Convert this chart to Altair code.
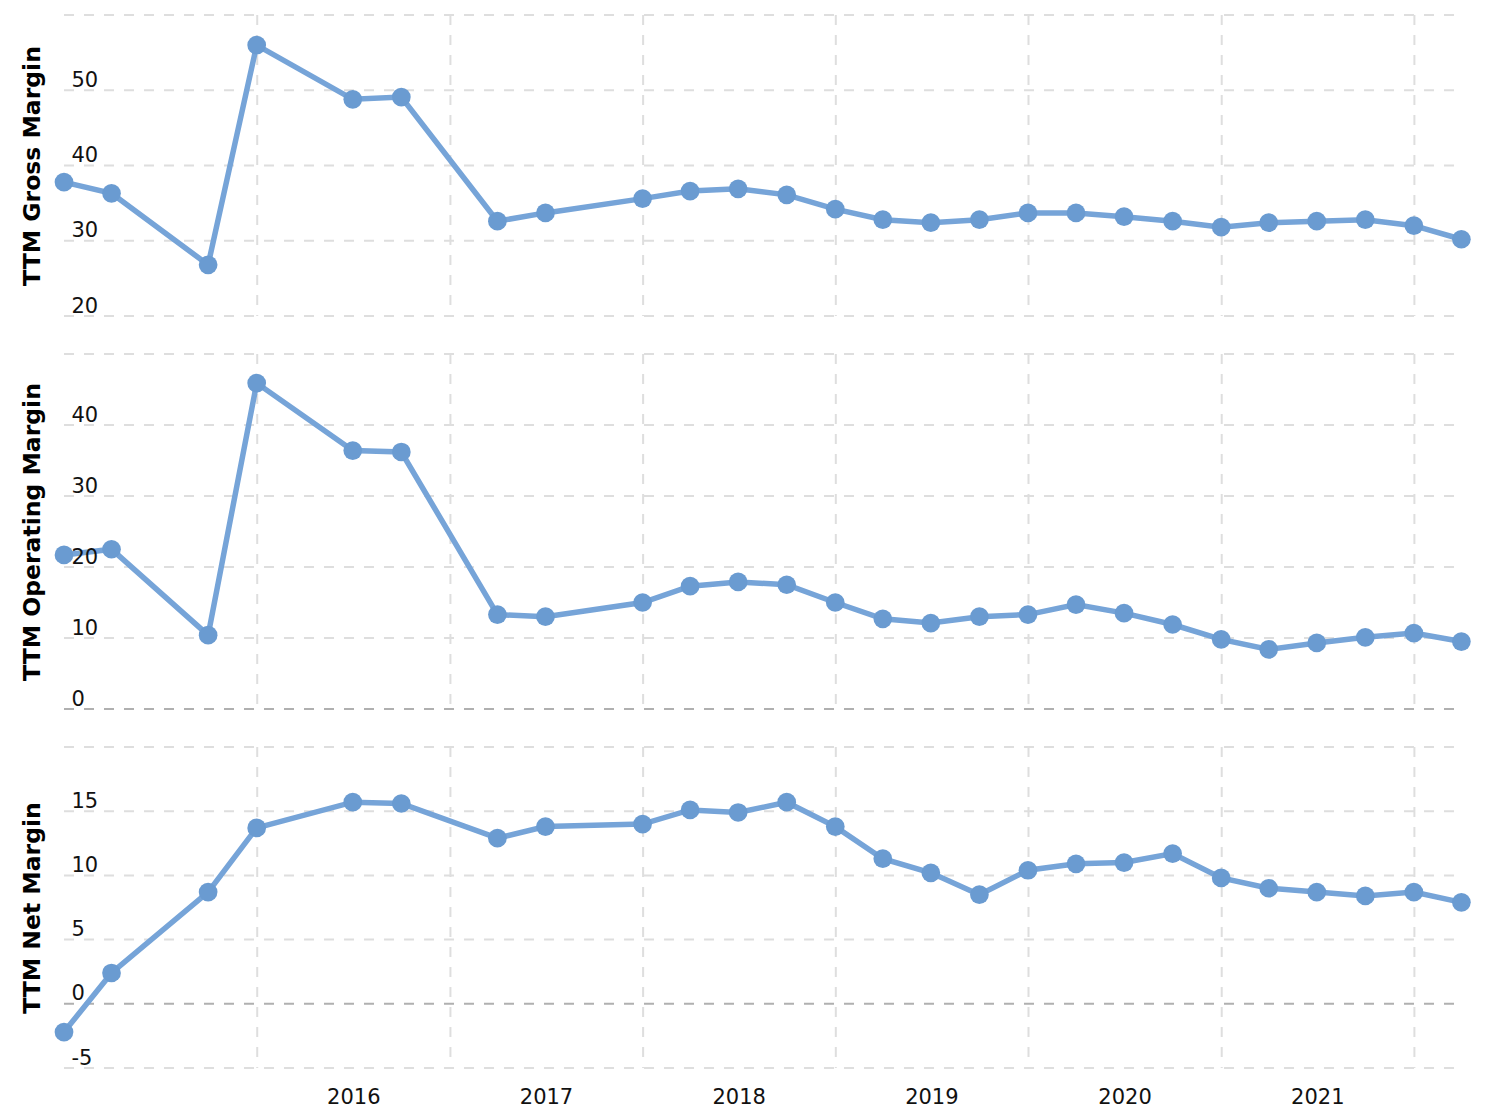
import altair as alt
import pandas as pd

# ---------------- data ----------------
dates = ["2014-12-31", "2015-03-31", "2015-09-30", "2015-12-31", "2016-06-30", "2016-09-30",
         "2017-03-31", "2017-06-30", "2017-12-31", "2018-03-31", "2018-06-30", "2018-09-30",
         "2018-12-31", "2019-03-31", "2019-06-30", "2019-09-30", "2019-12-31", "2020-03-31",
         "2020-06-30", "2020-09-30", "2020-12-31", "2021-03-31", "2021-06-30", "2021-09-30",
         "2021-12-31", "2022-03-31"]

gross_margin = [37.8, 36.3, 26.8, 56.0, 48.8, 49.1, 32.6, 33.7, 35.6, 36.6, 36.9, 36.1, 34.2,
                32.8, 32.4, 32.8, 33.7, 33.7, 33.2, 32.6, 31.8, 32.4, 32.6, 32.8, 32.0, 30.2]
operating_margin = [21.7, 22.5, 10.4, 45.9, 36.4, 36.2, 13.3, 13.0, 15.0, 17.3, 17.9, 17.5, 15.0,
                    12.7, 12.1, 13.0, 13.3, 14.7, 13.5, 11.9, 9.8, 8.4, 9.3, 10.1, 10.7, 9.5]
net_margin = [-2.2, 2.4, 8.7, 13.7, 15.7, 15.6, 12.9, 13.8, 14.0, 15.1, 14.9, 15.7, 13.8,
              11.3, 10.2, 8.5, 10.4, 10.9, 11.0, 11.7, 9.8, 9.0, 8.7, 8.4, 8.7, 7.9]

titles = ["TTM Gross Margin", "TTM Operating Margin", "TTM Net Margin"]
gross_ticks = [20, 30, 40, 50]
gross_grid = [20, 30, 40, 50, 60]
operating_ticks = [0, 10, 20, 30, 40]
operating_grid = [0, 10, 20, 30, 40, 50]
net_ticks = [-5, 0, 5, 10, 15]
net_grid = [-5, 0, 5, 10, 15, 20]

year_starts = ["2016-01-01", "2017-01-01", "2018-01-01", "2019-01-01",
               "2020-01-01", "2021-01-01", "2022-01-01"]
label_years = [2016, 2017, 2018, 2019, 2020, 2021]

FONT = "DejaVu Sans"
LINE_COLOR = "#76a4d8"
POINT_COLOR = "#6a9bd1"
GRID_COLOR = "#dedede"
ZERO_COLOR = "#b0b0b0"


def panel(values, title, ticks, grid_vals, height, show_x):
    df = pd.DataFrame({"date": dates, "value": values})
    vdf = pd.DataFrame({"date": year_starts})
    hdf = pd.DataFrame({"value": grid_vals})

    xscale = alt.Scale(
        type="utc",
        domain=[alt.DateTime(year=2014, month=12, date=31, utc=True),
                alt.DateTime(year=2022, month=3, date=17, utc=True)],
    )
    if show_x:
        xaxis = alt.Axis(
            values=[alt.DateTime(year=y, month=7, date=1, utc=True) for y in label_years],
            labelExpr="utcFormat(datum.value, '%Y')",
            grid=False, domain=False, ticks=False,
            labelFontSize=21, labelFont=FONT, labelColor="#111",
            labelPadding=18, labelFlush=False, title=None,
        )
    else:
        xaxis = None
    x = alt.X("date:T", scale=xscale, axis=xaxis)

    yscale = alt.Scale(domain=[grid_vals[0], grid_vals[-1]], nice=False, zero=False)
    yaxis = alt.Axis(
        values=ticks, grid=False, domain=False, ticks=False,
        labelExpr="toString(datum.value)",
        labelAlign="left", labelBaseline="alphabetic", labelPadding=-7, labelOffset=-4,
        labelFontSize=21, labelFont=FONT, labelColor="#111", labelOverlap=False,
        title=title, titleFont=FONT, titleFontSize=23.5, titleFontWeight="bold",
        titleColor="#000", titleX=-20, zindex=1,
    )
    y = alt.Y("value:Q", scale=yscale, axis=yaxis)

    vrules = alt.Chart(vdf).mark_rule(strokeDash=[10, 10], strokeWidth=2, color=GRID_COLOR).encode(x=x)
    hrules = alt.Chart(hdf).mark_rule(strokeDash=[10, 10], strokeWidth=2).encode(
        y=y,
        color=alt.condition("datum.value == 0", alt.value(ZERO_COLOR), alt.value(GRID_COLOR)),
    )
    line = alt.Chart(df).mark_line(color=LINE_COLOR, strokeWidth=5.5).encode(x=x, y=y)
    pts = alt.Chart(df).mark_point(filled=True, size=350, opacity=1, color=POINT_COLOR).encode(x=x, y=y)
    return alt.layer(vrules, hrules, line, pts).properties(width=1390, height=height)


p1 = panel(gross_margin, titles[0], gross_ticks, gross_grid, 301, False)
p2 = panel(operating_margin, titles[1], operating_ticks, operating_grid, 355, False)
p3 = panel(net_margin, titles[2], net_ticks, net_grid, 321, True)

chart = alt.vconcat(p1, p2, p3, spacing=38, bounds="flush").properties(
    padding={"left": 19, "top": 14, "right": 10, "bottom": 5}
).configure_view(stroke=None, strokeWidth=0)

chart.save("out.html", embed_options={"renderer": "svg", "actions": False})
